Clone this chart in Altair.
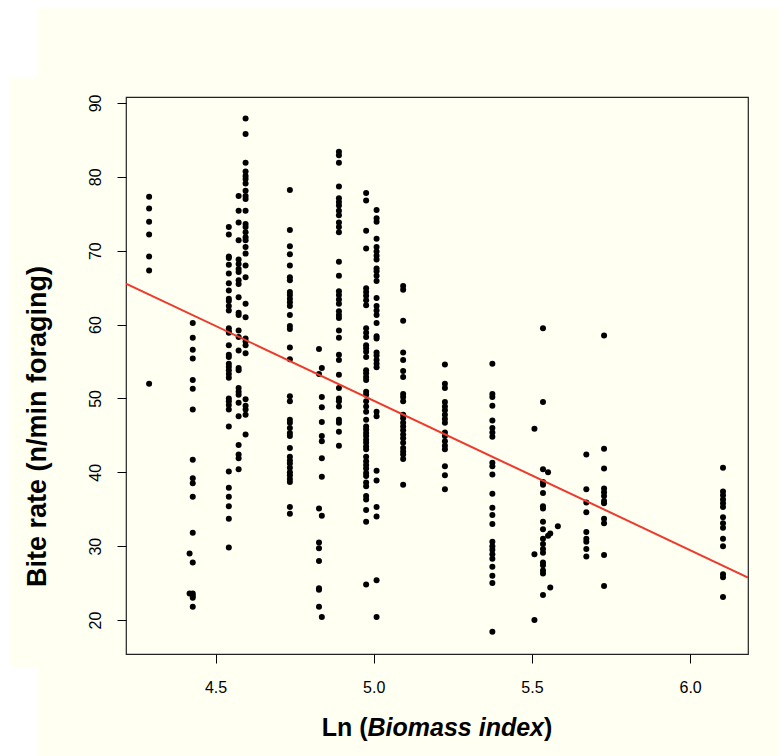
import altair as alt
import pandas as pd

# Each column of observations shares one ln(biomass index) value
ln_biomass = [4.290, 4.418, 4.428, 4.542, 4.573, 4.595, 4.735, 4.827, 4.836,
              4.890, 4.976, 5.009, 5.093, 5.225, 5.375, 5.508, 5.535, 5.551,
              5.558, 5.582, 5.672, 5.728, 6.104]

bite_rate = [
    [77.3, 75.7, 73.9, 72.2, 69.2, 67.3, 52.0],
    [29.0, 23.6],
    [60.2, 58.2, 56.6, 55.4, 52.5, 51.3, 48.5, 41.7, 39.2, 38.5, 36.7, 31.8,
     27.8, 23.6, 23.3, 23.0, 21.8],
    [73.2, 72.2, 69.2, 69.0, 68.1, 66.9, 65.6, 64.6, 63.5, 63.2, 62.5, 61.9,
     59.5, 59.1, 58.9, 57.2, 55.9, 55.6, 54.7, 54.3, 53.8, 53.3, 52.8, 50.0,
     49.6, 49.1, 48.5, 46.2, 40.1, 37.9, 36.7, 35.4, 33.7, 29.8],
    [77.4, 75.4, 73.8, 71.4, 68.8, 68.2, 67.5, 67.1, 66.0, 65.5, 63.7, 61.6,
     61.3, 59.2, 58.3, 56.5, 54.1, 53.8, 51.4, 50.9, 50.5, 49.4, 47.6, 43.7,
     42.4, 41.9, 40.4],
    [87.9, 85.8, 81.9, 80.7, 80.1, 79.7, 79.1, 78.1, 77.4, 77.0, 75.4, 73.6,
     73.2, 72.5, 71.8, 71.4, 70.5, 69.6, 68.0, 66.4, 62.8, 61.0, 58.1, 57.7,
     57.2, 56.1, 49.9, 49.0, 48.5, 47.8, 45.1],
    [78.2, 72.8, 70.6, 69.5, 68.0, 66.4, 66.0, 64.4, 64.0, 63.5, 63.0, 62.5,
     61.3, 59.8, 59.4, 56.9, 55.3, 50.3, 49.6, 47.1, 46.7, 46.0, 45.3, 44.9,
     43.3, 42.1, 41.6, 41.2, 40.6, 40.0, 39.6, 39.1, 38.7, 35.3, 34.4],
    [56.7, 53.3, 35.1, 30.5, 29.7, 28.0, 24.3, 24.1, 21.8],
    [54.1, 50.2, 48.8, 46.8, 44.9, 44.2, 41.9, 39.4, 34.1, 20.4],
    [83.4, 82.9, 81.9, 78.7, 77.1, 76.6, 76.1, 75.4, 74.8, 73.8, 73.2, 72.5,
     68.5, 66.6, 64.5, 64.0, 63.4, 62.8, 61.8, 61.3, 60.9, 59.2, 58.2, 55.9,
     55.2, 53.2, 51.4, 50.0, 49.6, 48.9, 47.1, 46.7, 45.5, 43.6],
    [77.8, 76.8, 72.7, 70.3, 64.9, 64.4, 63.9, 63.3, 62.6, 59.5, 58.9, 58.3,
     57.2, 56.8, 56.3, 55.6, 53.8, 53.4, 52.9, 52.5, 50.9, 50.5, 49.6, 48.9,
     48.2, 47.1, 46.2, 45.8, 45.3, 44.9, 44.4, 44.0, 43.5, 43.1, 42.1, 41.5,
     41.0, 40.5, 39.9, 39.5, 38.6, 38.1, 36.8, 36.3, 34.9, 33.3, 24.8],
    [75.5, 74.4, 73.9, 71.6, 70.5, 69.9, 69.3, 68.8, 67.6, 67.2, 66.6, 65.9,
     63.6, 62.5, 61.9, 61.3, 60.2, 58.4, 58.1, 56.2, 55.8, 55.2, 54.7, 54.2,
     48.2, 47.6, 40.2, 38.9, 35.3, 34.0, 25.4, 20.4],
    [65.2, 64.7, 60.5, 56.2, 55.2, 53.7, 52.9, 50.6, 50.2, 49.6, 47.8, 47.3,
     46.7, 46.2, 45.7, 45.1, 44.6, 44.0, 43.3, 42.8, 42.4, 41.8, 38.3],
    [54.6, 52.0, 51.4, 49.5, 48.9, 48.4, 47.8, 47.2, 46.7, 45.4, 44.9, 44.2,
     43.6, 43.1, 40.8, 39.6, 37.7],
    [54.7, 50.6, 50.2, 49.0, 47.0, 46.0, 45.4, 44.8, 41.3, 40.8, 39.7, 37.1,
     35.2, 34.2, 33.0, 30.6, 30.0, 29.5, 28.9, 28.3, 27.2, 26.0, 25.0, 18.4],
    [45.9, 28.9, 20.0],
    [59.5, 49.5, 40.4, 38.7, 38.3, 37.2, 35.4, 35.1, 33.3, 32.3, 31.0, 30.3,
     29.6, 29.1, 27.8, 27.4, 26.7, 26.3, 23.4],
    [40.0, 31.4],
    [31.7, 24.4],
    [32.7],
    [42.4, 37.7, 35.9, 34.6, 31.9, 31.0, 30.6, 29.6, 28.6],
    [58.5, 43.2, 40.5, 37.8, 37.3, 36.8, 36.1, 35.8, 33.7, 33.1, 28.8, 24.6],
    [40.6, 37.4, 36.9, 36.3, 35.8, 35.3, 33.9, 33.1, 32.5, 31.0, 30.0, 26.2,
     25.8, 23.1],
]

# Least-squares fit drawn across the full plotting range
fit_intercept = 150.9
fit_slope = -20.24

x_domain = [4.217, 6.183]
y_domain = [15.4, 90.8]
x_ticks = [4.5, 5.0, 5.5, 6.0]
y_ticks = [20, 30, 40, 50, 60, 70, 80, 90]

points_df = pd.DataFrame(
    [{"ln_biomass": x, "bite_rate": y}
     for x, ys in zip(ln_biomass, bite_rate) for y in ys]
)
fit_df = pd.DataFrame({
    "ln_biomass": x_domain,
    "bite_rate": [fit_intercept + fit_slope * v for v in x_domain],
})

FONT = "Liberation Sans"
CREAM = "#FFFFF2"
PLOT_W, PLOT_H = 622, 557
PAD_L, PAD_T = 126, 97

x_scale = alt.Scale(domain=x_domain, nice=False, zero=False)
y_scale = alt.Scale(domain=y_domain, nice=False, zero=False)

x_axis = alt.Axis(values=x_ticks, format=".1f", title=None, grid=False,
                  domain=False, tickSize=9, tickColor="#000",
                  labelFont=FONT, labelFontSize=16, labelColor="#000",
                  labelPadding=16)
y_axis = alt.Axis(values=y_ticks, format="d", grid=False, domain=False,
                  tickSize=9, tickColor="#000",
                  labelFont=FONT, labelFontSize=16, labelColor="#000",
                  labelAngle=270, labelAlign="center", labelBaseline="bottom",
                  labelPadding=14,
                  title="Bite rate (n/min foraging)", titleFont=FONT,
                  titleFontSize=27, titleFontWeight="bold", titleColor="#000",
                  titleAngle=270, titleAlign="center", titleBaseline="middle",
                  titleX=37 - PAD_L, titleY=426 - PAD_T)

one_row = pd.DataFrame({"k": [0]})


def margin_rect(x0, x1, y0, y1):
    # white strips around the cream page, in canvas pixels
    return alt.Chart(one_row).mark_rect(color="white").encode(
        x=alt.value(x0 - PAD_L), x2=alt.value(x1 - PAD_L),
        y=alt.value(y0 - PAD_T), y2=alt.value(y1 - PAD_T),
    )


margins = [
    margin_rect(0, 37, 0, 77),
    margin_rect(0, 779, 0, 8),
    margin_rect(0, 9, 0, 756),
    margin_rect(0, 37, 667, 756),
]

points = alt.Chart(points_df).mark_circle(
    size=36, color="#000", opacity=1
).encode(
    x=alt.X("ln_biomass:Q", scale=x_scale, axis=x_axis),
    y=alt.Y("bite_rate:Q", scale=y_scale, axis=y_axis),
)

fit_line = alt.Chart(fit_df).mark_line(
    color="#EE3A2C", strokeWidth=2, clip=True
).encode(
    x=alt.X("ln_biomass:Q", scale=x_scale),
    y=alt.Y("bite_rate:Q", scale=y_scale),
)

# x-axis title with an italic middle part
TITLE_SIZE = 25
em = TITLE_SIZE / 1000.0
w_left = 1833 * em      # "Ln ("
w_mid = 7058 * em       # "Biomass index"
w_right = 333 * em      # ")"
start = PLOT_W / 2 - (w_left + w_mid + w_right) / 2
title_y = 728 - PAD_T


def title_piece(text, x, align, style):
    return alt.Chart(one_row).mark_text(
        text=text, font=FONT, fontSize=TITLE_SIZE, fontWeight="bold",
        fontStyle=style, align=align, baseline="middle", color="#000",
    ).encode(x=alt.value(x), y=alt.value(title_y))


x_title = [
    title_piece("Ln (", start + w_left, "right", "normal"),
    title_piece("Biomass index", start + w_left, "left", "italic"),
    title_piece(")", start + w_left + w_mid, "left", "normal"),
]

chart = alt.layer(*margins, points, fit_line, *x_title).properties(
    width=PLOT_W, height=PLOT_H,
    autosize=alt.AutoSizeParams(type="none"),
    padding={"left": PAD_L, "top": PAD_T, "right": 779 - PAD_L - PLOT_W,
             "bottom": 756 - PAD_T - PLOT_H},
    background=CREAM,
).configure_view(
    stroke="#222", strokeWidth=1.2, fill=CREAM
)

chart.save("out.html", embed_options={"renderer": "svg", "actions": False})
